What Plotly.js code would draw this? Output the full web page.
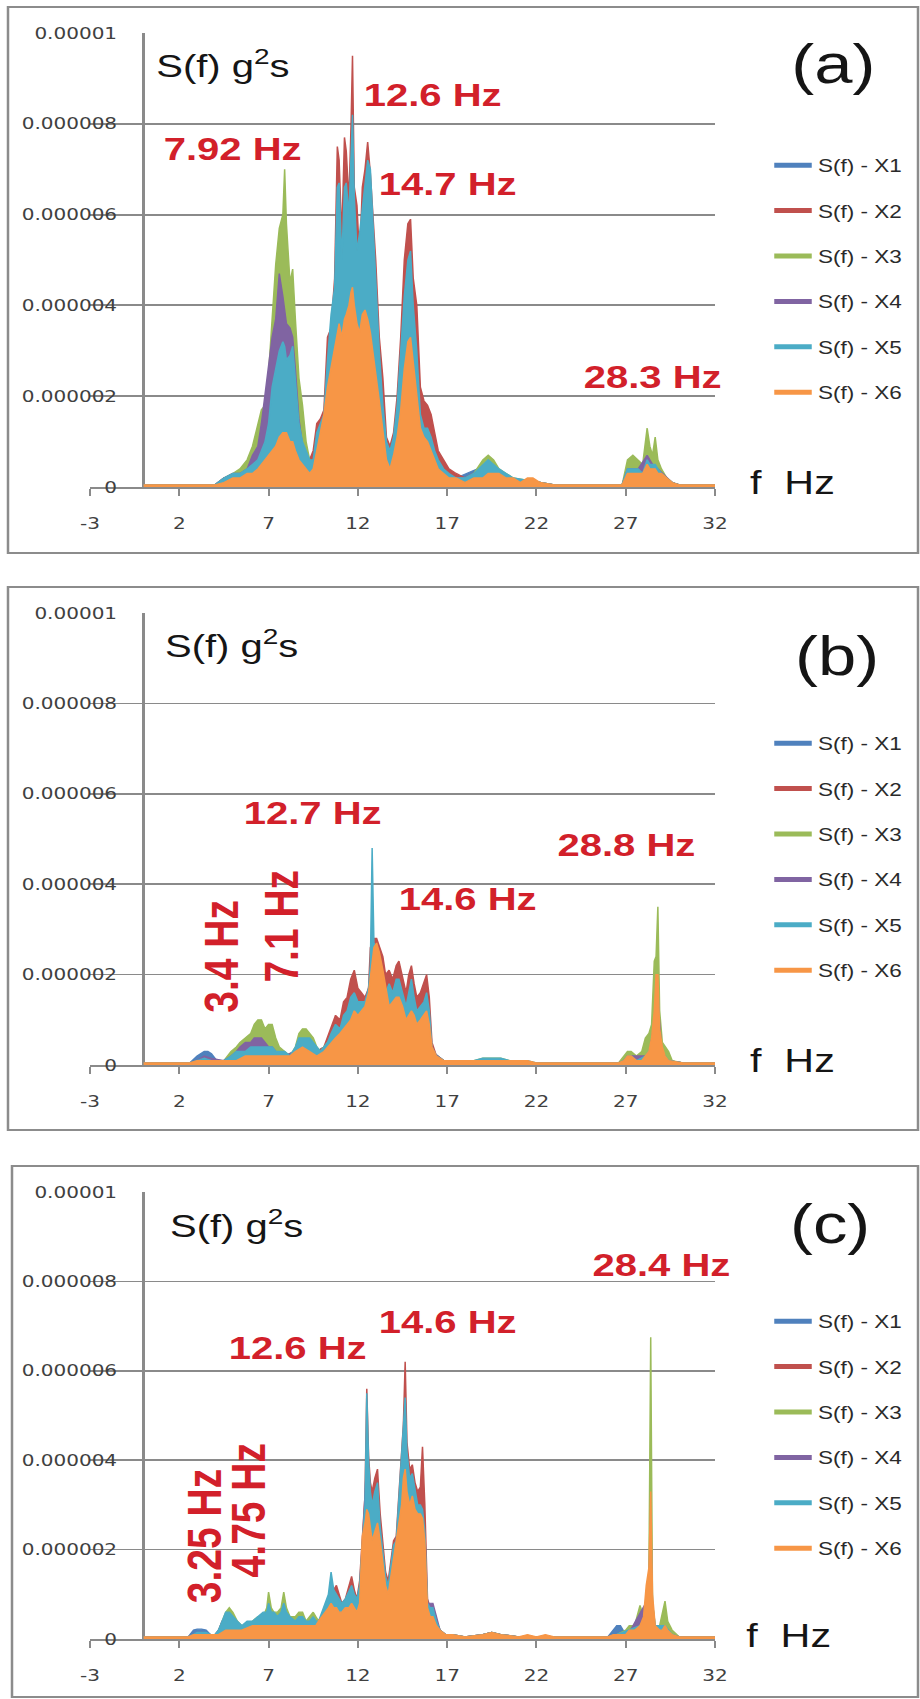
<!DOCTYPE html>
<html><head><meta charset="utf-8">
<script src="https://cdn.plot.ly/plotly-3.0.1.min.js"></script>
<style>
html,body{margin:0;padding:0;background:#fff;overflow:hidden;}
#wrap{width:920px;height:1699px;overflow:hidden;}
#chart{width:736px;height:1699px;transform:scaleX(1.25);transform-origin:0 0;}
</style></head><body><div id="wrap"><div id="chart"></div></div>
<script>
// ---------- DATA (values in units of 1e-7 g^2 s, frequency in Hz) ----------
const SERIES_NAMES = ['S(f) - X1','S(f) - X2','S(f) - X3','S(f) - X4','S(f) - X5','S(f) - X6'];
const SERIES_COLORS = ['#4F81BD','#C0504D','#9BBB59','#8064A2','#4BACC6','#F79646'];
const X_TICKS = [-3,2,7,12,17,22,27,32];
const X_TICK_TEXT = ['-3','2','7','12','17','22','27','32'];
const Y_TICKS = [0,0.000002,0.000004,0.000006,0.000008,0.00001];
const Y_TICK_TEXT = ['0','0.000002','0.000004','0.000006','0.000008','0.00001'];
const UNIT = 1e-7;

// Panel (a)
const A_X1 = [[0,0.5],[4,0.5],[5,2],[6.1,4],[6.8,8],[7.4,18],[7.8,24],[8.2,22],[8.5,16],[9.1,6],[9.5,5],[10.1,12],[10.5,30],[10.95,55],[11.35,55],[11.7,65],[12.1,46],[12.55,60],[12.85,48],[13.2,25],[13.6,8],[14.0,9],[14.6,35],[14.95,44],[15.3,25],[15.7,11],[16.1,9],[16.8,3],[17.5,2],[19.3,5],[20.3,2],[22.2,1],[23,0.5],[26.8,0.5],[27.4,3],[28.2,5],[28.8,3],[29.6,1],[30,0.5],[32,0.5]];
const A_X2 = [[0,0.5],[4,0.5],[4.5,2],[5,2],[5.4,3],[5.8,4],[6.1,5],[6.4,7],[6.6,9],[6.8,11],[7.0,15],[7.2,20],[7.4,24],[7.6,27],[7.8,28],[7.9,28],[8.0,26],[8.2,26],[8.35,27],[8.5,21],[8.7,13],[8.9,9],[9.1,7],[9.3,6],[9.5,8],[9.7,14],[9.9,15],[10.1,17],[10.3,33],[10.5,35],[10.7,46],[10.85,75],[10.95,72],[11.1,55],[11.25,77],[11.35,74],[11.5,63],[11.62,80],[11.7,95],[11.8,66],[11.95,62],[12.1,50],[12.25,66],[12.4,70],[12.55,76],[12.7,69],[12.85,60],[13.0,50],[13.2,33],[13.4,24],[13.6,11],[13.8,9],[14.0,12],[14.2,20],[14.4,33],[14.6,50],[14.8,58],[14.95,59],[15.1,46],[15.3,40],[15.5,22],[15.7,19],[15.9,18],[16.1,16],[16.3,12],[16.5,8],[16.8,6],[17.1,4],[17.5,3],[18,2],[18.5,3],[19,4],[19.3,5],[19.6,4],[19.9,3],[20.3,2],[22.2,1],[23,0.5],[26.8,0.5],[27.1,3],[27.4,3],[27.7,3],[28.2,5],[28.5,4],[28.8,3],[29.3,2],[29.6,1],[30,0.5],[32,0.5]];
const A_X3 = [[0,0.5],[4,0.5],[4.5,2],[5,3],[5.4,4],[5.8,6],[6.1,9],[6.4,14],[6.6,17],[6.8,18],[7.0,25],[7.2,37],[7.4,49],[7.6,57],[7.8,60],[7.9,70],[8.0,58],[8.2,45],[8.35,48],[8.5,37],[8.7,24],[8.9,18],[9.1,10],[9.3,6],[9.5,5],[9.7,8],[9.9,10],[10.1,12],[10.3,18],[10.5,24],[10.7,30],[10.85,40],[10.95,42],[11.1,35],[11.25,40],[11.35,41],[11.5,38],[11.62,45],[11.7,48],[11.8,40],[11.95,36],[12.1,38],[12.25,40],[12.4,42],[12.55,44],[12.7,42],[12.85,36],[13.0,30],[13.2,20],[13.4,12],[13.6,7],[13.8,5],[14.0,8],[14.2,12],[14.4,18],[14.6,25],[14.8,30],[14.95,31],[15.1,25],[15.3,18],[15.5,10],[15.7,9],[15.9,9],[16.1,7],[16.3,5],[16.5,4],[16.8,3],[17.1,2],[18,2],[18.5,3],[19,6],[19.3,7],[19.6,6],[19.9,4],[20.3,3],[20.7,2],[22.2,1],[23,0.5],[26.8,0.5],[27.1,6],[27.4,7],[27.7,6],[27.95,5],[28.2,13],[28.35,9],[28.5,7],[28.65,11],[28.8,6],[29.0,4],[29.3,2],[29.6,1],[30,0.5],[32,0.5]];
const A_X4 = [[0,0.5],[4,0.5],[4.5,2],[5,3],[5.4,3],[5.8,4],[6.1,7],[6.4,9],[6.6,14],[6.8,20],[7.0,27],[7.2,33],[7.4,37],[7.6,47],[7.8,42],[7.9,38],[8.0,36],[8.2,35],[8.35,33],[8.5,26],[8.7,15],[8.9,9],[9.1,7],[9.3,5],[9.5,5],[9.7,9],[9.9,11],[10.1,13],[10.3,20],[10.5,28],[10.7,33],[10.85,45],[10.95,46],[11.1,38],[11.25,44],[11.35,45],[11.5,42],[11.62,50],[11.7,55],[11.8,46],[11.95,40],[12.1,42],[12.25,45],[12.4,47],[12.55,50],[12.7,48],[12.85,40],[13.0,33],[13.2,23],[13.4,14],[13.6,8],[13.8,6],[14.0,9],[14.2,14],[14.4,22],[14.6,30],[14.8,36],[14.95,38],[15.1,30],[15.3,22],[15.5,12],[15.7,10],[15.9,10],[16.1,8],[16.3,6],[16.5,5],[16.8,3],[17.1,2],[18,2],[19,4],[19.3,5],[19.6,4],[20.3,2],[22.2,1],[23,0.5],[26.8,0.5],[27.1,4],[27.4,4],[27.7,4],[28.2,7],[28.5,5],[28.8,4],[29.3,2],[29.6,1],[30,0.5],[32,0.5]];
const A_X5 = [[0,0.5],[4,0.5],[4.5,2],[5,3],[5.4,3],[5.8,4],[6.1,5],[6.4,6],[6.6,8],[6.8,10],[7.0,14],[7.2,22],[7.4,26],[7.6,30],[7.8,32],[7.9,31],[8.0,28],[8.2,29],[8.35,31],[8.5,24],[8.7,14],[8.9,10],[9.1,8],[9.3,6],[9.5,6],[9.7,12],[9.9,14],[10.1,16],[10.3,28],[10.5,38],[10.7,44],[10.85,66],[10.95,67],[11.1,50],[11.25,66],[11.35,67],[11.5,60],[11.62,75],[11.7,82],[11.8,64],[11.95,52],[12.1,56],[12.25,62],[12.4,66],[12.55,72],[12.7,70],[12.85,57],[13.0,45],[13.2,30],[13.4,18],[13.6,10],[13.8,8],[14.0,11],[14.2,18],[14.4,30],[14.6,42],[14.8,50],[14.95,52],[15.1,40],[15.3,30],[15.5,16],[15.7,13],[15.9,13],[16.1,11],[16.3,8],[16.5,6],[16.8,4],[17.1,3],[17.5,2],[18,2],[18.5,3],[19,5],[19.3,6],[19.6,5],[19.9,4],[20.3,3],[20.7,2],[22.2,1],[23,0.5],[26.8,0.5],[27.1,4],[27.4,4],[27.7,4],[27.95,3],[28.2,6],[28.35,5],[28.5,5],[28.65,5],[28.8,4],[29.0,3],[29.3,2],[29.6,1],[30,0.5],[32,0.5]];
const A_X6 = [[0,0.5],[4,0.5],[4.5,1],[5,2],[5.4,2],[5.8,3],[6.1,3],[6.4,4],[6.6,5],[6.8,6],[7.0,7],[7.2,8],[7.4,9],[7.6,11],[7.8,12],[7.9,12],[8.0,12],[8.2,10],[8.35,10],[8.5,8],[8.7,6],[8.9,5],[9.1,4],[9.3,3],[9.5,4],[9.7,8],[9.9,12],[10.1,16],[10.3,22],[10.5,26],[10.7,30],[10.85,34],[10.95,36],[11.1,33],[11.25,37],[11.35,38],[11.5,40],[11.62,43],[11.7,44],[11.8,40],[11.95,36],[12.1,34],[12.25,38],[12.4,39],[12.55,37],[12.7,34],[12.85,30],[13.0,25],[13.2,19],[13.4,13],[13.6,6],[13.8,4],[14.0,7],[14.2,11],[14.4,17],[14.6,26],[14.8,32],[14.95,33],[15.1,28],[15.3,20],[15.5,13],[15.7,11],[15.9,10],[16.1,8],[16.3,6],[16.5,4],[16.8,3],[17.1,2],[17.5,2],[18,1],[18.5,2],[19,2],[19.3,3],[19.6,3],[19.9,3],[20.3,2],[20.7,2],[21.1,1],[21.5,2],[21.8,2],[22.2,1],[23,0.5],[26.8,0.5],[27.1,3],[27.4,3],[27.7,3],[27.95,3],[28.2,5],[28.35,4],[28.5,4],[28.65,4],[28.8,3],[29.0,3],[29.3,2],[29.6,1],[30,0.5],[32,0.5]];

// Panel (b)
const B_X1 = [[0,0.5],[2.6,0.5],[3.0,2],[3.2,2.5],[3.4,3],[3.6,3],[3.8,2.5],[4.1,1],[4.5,1],[5.2,2],[6.0,3],[6.6,4],[7.2,3],[7.9,2],[8.9,4],[9.7,3],[10.5,5],[11.6,11],[12.4,11],[12.8,18],[13.05,20],[13.4,15],[14.3,14],[15.0,13],[15.85,11],[16.15,3],[16.8,1],[19.0,1],[20.5,1],[22,0.5],[26.6,0.5],[26.9,1],[27.1,1.5],[28.3,2],[28.8,10],[29.05,2],[29.4,1],[30.2,0.5],[32,0.5]];
const B_X2 = [[0,0.5],[2.6,0.5],[3.0,1],[3.4,1.5],[3.8,1],[4.5,1],[4.9,2],[5.4,3],[6.0,4],[6.4,4],[7.0,4],[7.4,3],[7.9,2],[8.5,3],[8.9,5],[9.3,5],[9.7,3],[10.1,4],[10.3,6],[10.5,8],[10.75,11],[11.0,10],[11.2,14],[11.4,15],[11.6,19],[11.8,21],[12.0,17],[12.2,16],[12.4,15],[12.6,17],[12.7,26],[12.8,27],[12.9,28],[13.05,28],[13.2,26],[13.4,24],[13.55,20],[13.75,21],[13.95,19],[14.15,22],[14.3,23],[14.5,19],[14.7,16],[14.85,20],[15.0,22],[15.15,18],[15.3,15],[15.5,16],[15.7,18],[15.85,20],[16.0,15],[16.15,5],[16.4,2],[16.8,1],[18.5,1],[20.5,1],[22,0.5],[26.6,0.5],[26.9,1],[27.1,2],[28.3,2],[28.7,10],[28.8,12],[29.05,2],[29.4,1],[30.2,0.5],[32,0.5]];
const B_X3 = [[0,0.5],[2.6,0.5],[3.0,1],[3.4,1.5],[3.8,1],[4.5,1],[4.9,3],[5.2,4],[5.4,5],[5.7,6],[6.0,7],[6.2,9],[6.4,10],[6.6,10],[6.8,8],[7.0,9],[7.2,9],[7.4,6],[7.6,4],[7.9,3],[8.2,2],[8.5,4],[8.7,7],[8.9,8],[9.1,8],[9.3,7],[9.5,6],[9.7,4],[9.9,3],[10.1,4],[10.5,6],[11.0,7],[11.6,12],[12.0,12],[12.4,12],[12.8,20],[13.05,22],[13.4,17],[14.3,16],[14.7,11],[15.0,15],[15.3,10],[15.85,13],[16.15,3],[16.8,1],[18.5,1],[19.0,1.5],[19.5,1.5],[20.0,1.5],[20.5,1],[22,0.5],[26.6,0.5],[26.9,2],[27.1,3],[27.3,3],[27.6,2],[27.9,3],[28.1,6],[28.3,7],[28.45,9],[28.6,23],[28.7,24],[28.8,35],[28.9,12],[29.05,5],[29.2,4],[29.4,3],[29.6,1],[30.2,0.5],[32,0.5]];
const B_X4 = [[0,0.5],[2.6,0.5],[3.0,1],[3.4,2],[3.8,1.5],[4.5,1],[4.9,2],[5.2,3],[5.4,4],[5.7,5],[6.0,5],[6.2,6],[6.4,6],[6.6,6],[6.8,5],[7.0,4],[7.2,4],[7.4,3],[7.9,2],[8.5,3],[8.9,5],[9.3,5],[9.7,3],[10.1,3],[10.5,6],[11.0,7],[11.6,12],[12.0,12],[12.4,12],[12.8,22],[13.05,22],[13.4,17],[14.3,16],[14.7,11],[15.0,15],[15.3,10],[15.85,13],[16.15,3],[16.8,1],[19.0,1],[20.5,1],[22,0.5],[26.6,0.5],[26.9,1],[27.1,2],[28.3,2],[28.7,12],[28.8,14],[29.05,2],[29.4,1],[30.2,0.5],[32,0.5]];
const B_X5 = [[0,0.5],[2.6,0.5],[3.0,1],[3.4,1.5],[3.8,1],[4.5,1],[4.9,2],[5.2,3],[5.4,3],[5.7,3],[6.0,4],[6.4,4],[6.8,4],[7.2,4],[7.4,3],[7.9,3],[8.2,2],[8.5,4],[8.7,6],[9.1,6],[9.3,6],[9.5,5],[9.7,4],[9.9,3],[10.1,4],[10.3,5],[10.5,7],[10.75,9],[11.0,8],[11.2,11],[11.4,12],[11.6,15],[11.8,16],[12.0,14],[12.2,14],[12.4,14],[12.6,17],[12.7,22],[12.8,48],[12.9,27],[13.05,26],[13.2,22],[13.4,20],[13.55,16],[13.75,18],[13.95,16],[14.15,19],[14.3,19],[14.5,16],[14.7,13],[14.85,16],[15.0,19],[15.15,15],[15.3,12],[15.5,13],[15.7,14],[15.85,16],[16.0,12],[16.15,4],[16.4,2],[16.8,1],[18.5,1],[19.0,1.5],[19.5,1.5],[20.0,1.5],[20.5,1],[21.5,1],[22,0.5],[26.6,0.5],[26.9,1],[27.1,2],[27.3,2],[27.6,1],[28.1,2],[28.3,3],[28.45,5],[28.6,10],[28.7,16],[28.8,18],[28.9,7],[29.05,3],[29.2,2],[29.4,1],[30.2,0.5],[32,0.5]];
const B_X6 = [[0,0.5],[2.6,0.5],[3.0,1],[3.4,1],[3.8,1],[4.5,1],[5.2,1],[5.7,2],[6.4,2],[7.0,2],[7.6,2],[8.2,2],[8.5,3],[8.9,4],[9.3,3],[9.7,2],[10.1,3],[10.3,4],[10.5,5],[10.75,6],[11.0,7],[11.2,8],[11.4,9],[11.6,10],[11.8,12],[12.0,11],[12.2,12],[12.4,13],[12.6,16],[12.7,20],[12.8,24],[12.9,26],[13.05,27],[13.2,25],[13.4,21],[13.55,17],[13.75,13],[13.95,14],[14.15,15],[14.3,15],[14.5,13],[14.7,10],[14.85,11],[15.0,12],[15.15,11],[15.3,9],[15.5,10],[15.7,11],[15.85,12],[16.0,9],[16.15,4],[16.4,2],[16.8,1],[18.5,1],[19.0,1],[19.5,1],[20.0,1],[20.5,1],[21.5,1],[22,0.5],[26.6,0.5],[26.9,1],[27.1,2],[27.3,2],[27.6,1],[27.9,1],[28.1,2],[28.3,3],[28.45,6],[28.6,12],[28.7,20],[28.8,20],[28.9,8],[29.05,4],[29.2,2],[29.4,1],[30.2,0.5],[32,0.5]];

// Panel (c)
const C_X1 = [[0,0.5],[2.5,0.5],[2.8,2],[3.0,2.2],[3.25,2.2],[3.5,2],[3.75,1],[4.2,1],[4.6,3],[5.0,3],[5.5,2],[6.1,3],[7.0,4],[7.85,4],[8.5,3],[9.5,3],[10.0,4],[10.5,8],[11.65,8],[12.1,8],[12.5,35],[13.1,24],[13.7,8],[14.65,35],[15.62,22],[15.9,6],[16.2,6],[16.6,2],[16.9,1],[18,0.5],[19,1],[19.5,1.5],[20,1],[21,0.5],[26,0.5],[26.3,2],[26.5,3],[26.7,3],[27.0,1],[27.2,1.5],[28.4,8],[28.65,2],[29.6,1],[30,0.5],[32,0.5]];
const C_X2 = [[0,0.5],[2.5,0.5],[2.8,1],[3.25,1.5],[3.75,1],[4.2,1],[4.6,3],[5.0,3],[5.5,2],[6.1,3],[7.0,5],[7.85,5],[8.5,3],[9.5,3],[10.0,5],[10.2,7],[10.35,9],[10.5,12],[10.65,11],[10.8,12],[10.95,10],[11.1,8],[11.3,9],[11.5,12],[11.65,14],[11.8,11],[11.95,9],[12.1,13],[12.25,24],[12.4,32],[12.5,56],[12.6,41],[12.7,35],[12.8,33],[12.95,36],[13.1,38],[13.25,28],[13.4,21],[13.55,15],[13.7,13],[13.85,17],[14.0,22],[14.15,23],[14.3,33],[14.45,41],[14.55,48],[14.65,62],[14.75,44],[14.9,38],[15.05,39],[15.2,35],[15.35,33],[15.5,34],[15.62,43],[15.75,30],[15.9,9],[16.05,7],[16.2,7],[16.4,4],[16.6,2],[16.9,1],[17.3,1],[18,0.5],[19,1],[19.5,1.5],[20,1],[21,0.5],[26,0.5],[26.5,1],[27.2,1.5],[28.4,8],[28.65,2],[29.6,1],[30,0.5],[32,0.5]];
const C_X3 = [[0,0.5],[2.5,0.5],[2.8,1],[3.25,1.5],[3.75,1],[4.0,1],[4.2,2],[4.4,4],[4.6,6],[4.8,7],[5.0,6],[5.25,4],[5.5,3],[5.8,3],[6.1,4],[6.4,5],[6.7,5],[6.9,7],[7.0,10.5],[7.15,7],[7.3,6],[7.5,6],[7.7,7],[7.85,10.5],[8.0,7],[8.2,5],[8.5,5],[8.7,6],[8.9,6],[9.1,4],[9.3,5],[9.5,6],[9.65,5],[9.8,4],[10.0,5],[10.5,10],[11.0,7],[11.65,9],[12.1,9],[12.5,38],[12.6,30],[13.1,26],[13.4,14],[13.7,9],[14.0,15],[14.65,38],[15.05,28],[15.62,22],[15.9,6],[16.2,6],[16.6,2],[16.9,1],[17.3,1],[18,0.5],[19,1],[19.5,1.5],[20,1],[21,0.5],[26,0.5],[26.5,1],[27.0,2],[27.2,3],[27.5,3],[27.8,7.5],[28.0,5],[28.15,8],[28.3,14],[28.4,67.5],[28.5,8],[28.65,3],[28.9,3],[29.05,6],[29.2,8.5],[29.35,4],[29.6,2],[30,0.5],[32,0.5]];
const C_X4 = [[0,0.5],[2.5,0.5],[2.8,1],[3.25,1.5],[3.75,1],[4.0,1],[4.2,2],[4.4,4],[4.6,4.5],[4.8,4],[5.0,3],[5.5,2],[6.1,3],[7.0,5],[7.85,5],[8.5,3],[9.5,3],[10.0,4],[10.5,9],[11.0,7],[11.65,9],[12.1,9],[12.5,40],[12.6,30],[13.1,28],[13.4,15],[13.7,9],[14.0,16],[14.65,40],[15.05,30],[15.62,24],[15.75,20],[15.9,8],[16.05,8],[16.2,8],[16.4,5],[16.6,2],[16.9,1],[17.3,1],[18,0.5],[19,1],[19.5,1.5],[20,1],[21,0.5],[26,0.5],[26.5,1],[27.2,1.5],[28.4,10],[28.65,2],[29.6,1],[30,0.5],[32,0.5]];
const C_X5 = [[0,0.5],[2.5,0.5],[2.8,1],[3.0,1.5],[3.25,1.5],[3.5,1.5],[3.75,1],[4.0,1],[4.2,2],[4.4,4],[4.6,6],[4.8,6],[5.0,5],[5.25,4],[5.5,3],[5.8,4],[6.1,4],[6.4,5],[6.7,6],[6.9,6],[7.0,8],[7.15,6],[7.3,6],[7.5,5],[7.7,6],[7.85,8],[8.0,6],[8.2,5],[8.5,4],[8.7,5],[8.9,5],[9.1,4],[9.3,4],[9.5,5],[9.65,4],[9.8,4],[10.0,6],[10.2,8],[10.35,10],[10.5,15],[10.65,11],[10.8,10],[10.95,9],[11.1,8],[11.3,9],[11.5,11],[11.65,12],[11.8,10],[11.95,9],[12.1,12],[12.25,22],[12.4,30],[12.5,55],[12.6,40],[12.7,33],[12.8,30],[12.95,33],[13.1,35],[13.25,25],[13.4,19],[13.55,14],[13.7,12],[13.85,16],[14.0,21],[14.15,22],[14.3,32],[14.45,40],[14.55,46],[14.65,54],[14.75,42],[14.9,36],[15.05,37],[15.2,33],[15.35,30],[15.5,30],[15.62,29],[15.75,24],[15.9,8],[16.05,7],[16.2,7],[16.4,4],[16.6,2],[16.9,1],[17.3,1],[18,0.5],[19,1],[19.5,1.5],[20,1],[21,0.5],[26,0.5],[26.5,1],[27.2,2],[27.8,3],[28.0,4],[28.15,10],[28.3,14],[28.4,28],[28.5,8],[28.65,3],[29.2,3],[29.6,1],[30,0.5],[32,0.5]];
const C_X6 = [[0,0.5],[2.5,0.5],[2.8,1],[3.25,1],[3.75,1],[4.2,1],[4.6,2],[5.0,2],[5.5,2],[6.1,3],[7.0,3],[8.0,3],[9.0,3],[9.65,3],[9.8,4],[10.0,5],[10.2,6],[10.35,7],[10.5,8],[10.65,7],[10.8,7],[10.95,6],[11.1,6],[11.3,7],[11.5,7],[11.65,8],[11.8,7],[11.95,6],[12.1,8],[12.25,23],[12.4,26],[12.5,29],[12.6,28],[12.7,24],[12.8,22],[12.95,24],[13.1,26],[13.25,22],[13.4,16],[13.55,12],[13.7,10],[13.85,14],[14.0,18],[14.15,22],[14.3,26],[14.45,30],[14.55,36],[14.65,38],[14.75,33],[14.9,30],[15.05,32],[15.2,29],[15.35,28],[15.5,28],[15.62,27],[15.75,22],[15.9,7],[16.05,5],[16.2,5],[16.4,3],[16.6,2],[16.9,1],[17.3,1],[18,0.5],[19,1],[19.5,1.5],[20,1],[21,0.5],[21.5,1],[22,0.5],[22.5,1],[23,0.5],[26,0.5],[26.3,1],[26.5,1],[26.7,1],[27.0,1],[27.2,2],[27.5,2],[27.8,3],[28.0,5],[28.15,12],[28.3,16],[28.4,33],[28.5,10],[28.65,3],[28.9,2],[29.05,2],[29.2,3],[29.35,2],[29.6,1],[30,0.5],[32,0.5]];

const PANEL_TAGS = ['(a)','(b)','(c)'];
const PEAK_LABELS_A = ['12.6 Hz','7.92 Hz','14.7 Hz','28.3 Hz'];
const PEAK_LABELS_B = ['12.7 Hz','28.8 Hz','14.6 Hz','3.4 Hz','7.1 Hz'];
const PEAK_LABELS_C = ['28.4 Hz','14.6 Hz','12.6 Hz','3.25 Hz','4.75 Hz'];

// ---------- LAYOUT (positions in pixels of the 920 x 1699 picture) ----------
const PW = 920, PH = 1699;
const px = v => v / PW;
const py = v => 1 - v / PH;

const panels = [
  {series:[A_X1,A_X2,A_X3,A_X4,A_X5,A_X6], box:[8,7,918,553], gridTop:33, zero:487, legTop:164,
   sf:[154,64], tag:[833,64], fhz:[747,482],
   peaks:[[PEAK_LABELS_A[0],433,95,0],[PEAK_LABELS_A[1],232,149,0],[PEAK_LABELS_A[2],448,184,0],[PEAK_LABELS_A[3],652,377,0]]},
  {series:[B_X1,B_X2,B_X3,B_X4,B_X5,B_X6], box:[8,587,918,1130], gridTop:613, zero:1065, legTop:742,
   sf:[163,644], tag:[837,656], fhz:[747,1060],
   peaks:[[PEAK_LABELS_B[0],312,813,0],[PEAK_LABELS_B[1],626,845,0],[PEAK_LABELS_B[2],468,899,0],[PEAK_LABELS_B[3],221,956,-90],[PEAK_LABELS_B[4],282,926,-90]]},
  {series:[C_X1,C_X2,C_X3,C_X4,C_X5,C_X6], box:[12,1166,918,1697], gridTop:1192, zero:1639, legTop:1320,
   sf:[167,1224], tag:[830,1224], fhz:[744,1635],
   peaks:[[PEAK_LABELS_C[0],661,1265,0],[PEAK_LABELS_C[1],447,1322,0],[PEAK_LABELS_C[2],298,1348,0],[PEAK_LABELS_C[3],204,1536,-90],[PEAK_LABELS_C[4],248,1510,-90]]}
];

const traces = [];
const layout = {
  width: 736, height: 1699, autosize: false,
  margin: {l:0, r:0, t:0, b:0, pad:0},
  paper_bgcolor: '#ffffff', plot_bgcolor: 'rgba(0,0,0,0)',
  showlegend: true, shapes: [], annotations: []
};
const GRID = '#8a8a8a';
const TICKFONT = {family:'DejaVu Sans, Arial, sans-serif', size:16, color:'#404040'};
const RED = '#D2202A';
const YAXIS_X = 143.6;

panels.forEach((p, i) => {
  const sfx = i === 0 ? '' : String(i + 1);
  p.series.forEach((s, k) => {
    traces.push({
      type:'scatter', mode:'lines',
      x: s.map(d => d[0]), y: s.map(d => d[1] * UNIT),
      xaxis:'x' + sfx, yaxis:'y' + sfx,
      line:{color:SERIES_COLORS[k], width:1.2},
      fill:'tozeroy', fillcolor:SERIES_COLORS[k],
      showlegend:false, hoverinfo:'skip', name:SERIES_NAMES[k]
    });
  });
  SERIES_NAMES.forEach((nm, k) => {
    traces.push({
      type:'scatter', mode:'lines', x:[null], y:[null],
      xaxis:'x' + sfx, yaxis:'y' + sfx, name:nm,
      line:{color:SERIES_COLORS[k], width:5},
      legend:'legend' + sfx, legendgroup:'g' + i + '_' + k, showlegend:true, hoverinfo:'skip'
    });
  });
  layout['xaxis' + sfx] = {
    domain:[px(90), px(715)], range:[-3, 32], anchor:'y' + sfx,
    tickmode:'array', tickvals:X_TICKS, ticktext:X_TICK_TEXT,
    showgrid:false, zeroline:false, showline:true, linecolor:GRID, linewidth:1.8,
    ticks:'outside', ticklen:7, tickwidth:1.5, tickcolor:GRID,
    tickfont:TICKFONT, ticklabelstandoff:14, layer:'below traces', fixedrange:true
  };
  layout['yaxis' + sfx] = {
    domain:[py(p.zero), py(p.gridTop)], range:[0, 0.00001], anchor:'free', position:px(YAXIS_X),
    tickmode:'array', tickvals:Y_TICKS, ticktext:Y_TICK_TEXT,
    showgrid:true, gridcolor:GRID, gridwidth:1.8, zeroline:false,
    showline:true, linecolor:GRID, linewidth:2, ticks:'',
    tickfont:TICKFONT, ticklabelstandoff:17, layer:'below traces', fixedrange:true
  };
  layout['legend' + sfx] = {
    x:px(768), y:py(p.legTop - 17), xanchor:'left', yanchor:'top',
    bgcolor:'rgba(0,0,0,0)', borderwidth:0, tracegroupgap:19,
    font:{family:'Arial, Liberation Sans, sans-serif', size:18, color:'#2a2a2a'}
  };
  const b = p.box;
  layout.shapes.push({type:'rect', xref:'paper', yref:'paper', x0:px(b[0]), x1:px(b[2]), y0:py(b[3]), y1:py(b[1]),
    line:{color:'#8c8c8c', width:2}, fillcolor:'rgba(0,0,0,0)', layer:'below'});
  layout.shapes.push({type:'line', xref:'paper', yref:'paper', x0:px(YAXIS_X), x1:px(YAXIS_X), y0:py(p.zero), y1:py(p.gridTop),
    line:{color:'#808080', width:2}, layer:'below'});
  layout.annotations.push({xref:'paper', yref:'paper', x:px(p.sf[0]), y:py(p.sf[1]), xanchor:'left', yanchor:'middle',
    text:'S(f) g<sup>2</sup>s', showarrow:false, font:{family:'Arial, Liberation Sans, sans-serif', size:32, color:'#151515'}});
  layout.annotations.push({xref:'paper', yref:'paper', x:px(p.tag[0]), y:py(p.tag[1]), xanchor:'center', yanchor:'middle',
    text:PANEL_TAGS[i], showarrow:false, font:{family:'Arial, Liberation Sans, sans-serif', size:55, color:'#151515'}});
  layout.annotations.push({xref:'paper', yref:'paper', x:px(p.fhz[0]), y:py(p.fhz[1]), xanchor:'left', yanchor:'middle',
    text:'f\u00a0 Hz', showarrow:false, font:{family:'Arial, Liberation Sans, sans-serif', size:33, color:'#151515'}});
  p.peaks.forEach(pk => {
    layout.annotations.push({xref:'paper', yref:'paper', x:px(pk[1]), y:py(pk[2]), xanchor:'center', yanchor:'middle',
      text:'<b>' + pk[0] + '</b>', textangle:pk[3], showarrow:false,
      font:{family:'Arial, Liberation Sans, sans-serif', size: pk[3] ? 39 : 32, color:RED}});
  });
});

Plotly.newPlot('chart', traces, layout, {staticPlot:true, displayModeBar:false});
</script></body></html>
